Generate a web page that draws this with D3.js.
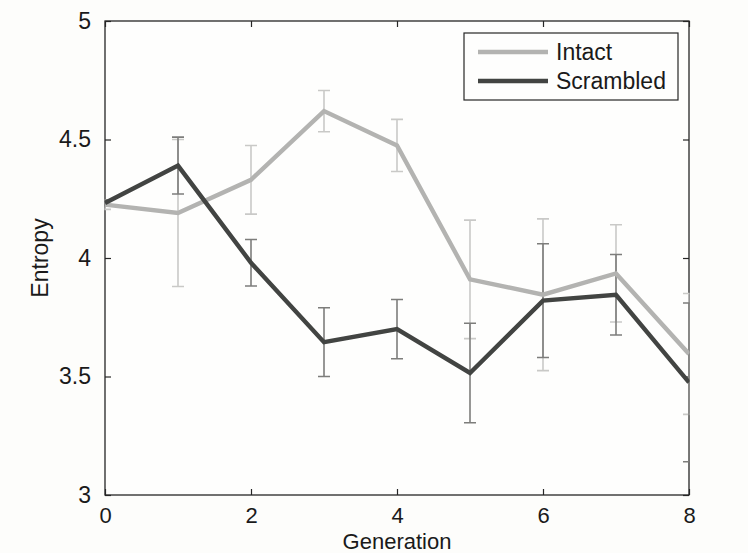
<!DOCTYPE html>
<html>
<head>
<meta charset="utf-8">
<script src="https://cdn.jsdelivr.net/npm/d3@7"></script>
<style>
  body { margin: 0; background: #fdfdfb; }
  svg { display: block; font-family: "Liberation Sans", Arial, sans-serif; }
</style>
</head>
<body>
<div class="svg-div"></div>
<script>
// values
const generations = [0, 1, 2, 3, 4, 5, 6, 7, 8]
const intactMean = [4.225, 4.19, 4.33, 4.62, 4.475, 3.91, 3.845, 3.935, 3.595]
const intactErr = [0.02, 0.31, 0.145, 0.087, 0.11, 0.25, 0.32, 0.205, 0.255]
const scrambledMean = [4.232, 4.39, 3.98, 3.645, 3.70, 3.515, 3.82, 3.845, 3.475]
const scrambledErr = [0.012, 0.12, 0.098, 0.145, 0.125, 0.21, 0.24, 0.17, 0.335]
const xTicks = [0, 2, 4, 6, 8]
const yTicks = [3, 3.5, 4, 4.5, 5]
const seriesNames = ["Intact", "Scrambled"]

const width = 748, height = 553
const plotLeft = 105, plotRight = 689, plotTop = 21, plotBottom = 495

let svg = d3.select(".svg-div").append("svg")
    .attr("width", width).attr("height", height)

let xScale = d3.scaleLinear().domain([0, 8]).range([plotLeft, plotRight])
let yScale = d3.scaleLinear().domain([3, 5]).range([plotBottom, plotTop])

// clip for the data
svg.append("defs").append("clipPath").attr("id", "plotclip")
    .append("rect")
    .attr("x", plotLeft - 0.5).attr("y", plotTop - 0.5)
    .attr("width", plotRight - plotLeft + 1).attr("height", plotBottom - plotTop + 1)

// box
svg.append("rect")
    .attr("x", plotLeft).attr("y", plotTop)
    .attr("width", plotRight - plotLeft).attr("height", plotBottom - plotTop)
    .attr("fill", "#fefefd").attr("stroke", "#262626").attr("stroke-width", 1.3)

// axes, ticks pointing inward
let fontSize = "22px"
let gx = svg.append("g").attr("transform", "translate(0," + plotBottom + ")")
    .call(d3.axisBottom(xScale).tickValues(xTicks).tickSizeInner(-6).tickSizeOuter(0).tickPadding(12))
let gxTop = svg.append("g").attr("transform", "translate(0," + plotTop + ")")
    .call(d3.axisTop(xScale).tickValues(xTicks).tickSizeInner(-6).tickSizeOuter(0).tickFormat(""))
let gy = svg.append("g").attr("transform", "translate(" + plotLeft + ",0)")
    .call(d3.axisLeft(yScale).tickValues(yTicks).tickSizeInner(-6).tickSizeOuter(0).tickPadding(14).tickFormat(d3.format("")))
let gyRight = svg.append("g").attr("transform", "translate(" + plotRight + ",0)")
    .call(d3.axisRight(yScale).tickValues(yTicks).tickSizeInner(-6).tickSizeOuter(0).tickFormat(""))

svg.selectAll(".domain").remove()
svg.selectAll(".tick line").attr("stroke", "#262626").attr("stroke-width", 1.2)
svg.selectAll(".tick text").attr("fill", "#1a1a1a").style("font-size", "23px").style("font-family", "Liberation Sans, Arial, sans-serif")
gx.selectAll(".tick text").style("font-size", fontSize)

// axis titles
svg.append("text")
    .attr("x", xScale(4)).attr("y", 548.5)
    .attr("text-anchor", "middle")
    .attr("fill", "#1a1a1a").style("font-size", fontSize)
    .text("Generation")
svg.append("text")
    .attr("transform", "translate(48," + yScale(4) + ") rotate(-90)")
    .attr("text-anchor", "middle")
    .attr("fill", "#1a1a1a").style("font-size", "23px")
    .text("Entropy")

// data
let gData = svg.append("g").attr("clip-path", "url(#plotclip)")
let series = [
    { name: seriesNames[0], mean: intactMean, err: intactErr, line: "#b3b3b1", bar: "#c9c9c7" },
    { name: seriesNames[1], mean: scrambledMean, err: scrambledErr, line: "#424442", bar: "#7d7d7b" }
]
let capHalf = 6

series.forEach(function(s) {
    let g = gData.append("g")
    generations.forEach(function(x, i) {
        let cx = xScale(x)
        let y1 = yScale(s.mean[i] + s.err[i])
        let y2 = yScale(s.mean[i] - s.err[i])
        g.append("line").attr("x1", cx).attr("x2", cx).attr("y1", y1).attr("y2", y2)
            .attr("stroke", s.bar).attr("stroke-width", 1.6)
        g.append("line").attr("x1", cx - capHalf).attr("x2", cx + capHalf).attr("y1", y1).attr("y2", y1)
            .attr("stroke", s.bar).attr("stroke-width", 1.6)
        g.append("line").attr("x1", cx - capHalf).attr("x2", cx + capHalf).attr("y1", y2).attr("y2", y2)
            .attr("stroke", s.bar).attr("stroke-width", 1.6)
    })
})

let line = d3.line()
series.forEach(function(s) {
    gData.append("path")
        .attr("d", line(generations.map((x, i) => [xScale(x), yScale(s.mean[i])])))
        .attr("fill", "none").attr("stroke", s.line).attr("stroke-width", 4.4)
        .attr("stroke-linejoin", "miter")
})

// legend
let legend = svg.append("g")
legend.append("rect")
    .attr("x", 464).attr("y", 33).attr("width", 214).attr("height", 67)
    .attr("fill", "#fefefd").attr("stroke", "#262626").attr("stroke-width", 1.2)
series.forEach(function(s, i) {
    let ly = 52 + i * 29
    legend.append("line").attr("x1", 478).attr("x2", 548).attr("y1", ly).attr("y2", ly)
        .attr("stroke", s.line).attr("stroke-width", 4.4)
    legend.append("text").attr("x", 556).attr("y", ly).attr("dy", "0.36em")
        .attr("fill", "#1a1a1a").style("font-size", "23px")
        .text(s.name)
})
</script>
</body>
</html>
